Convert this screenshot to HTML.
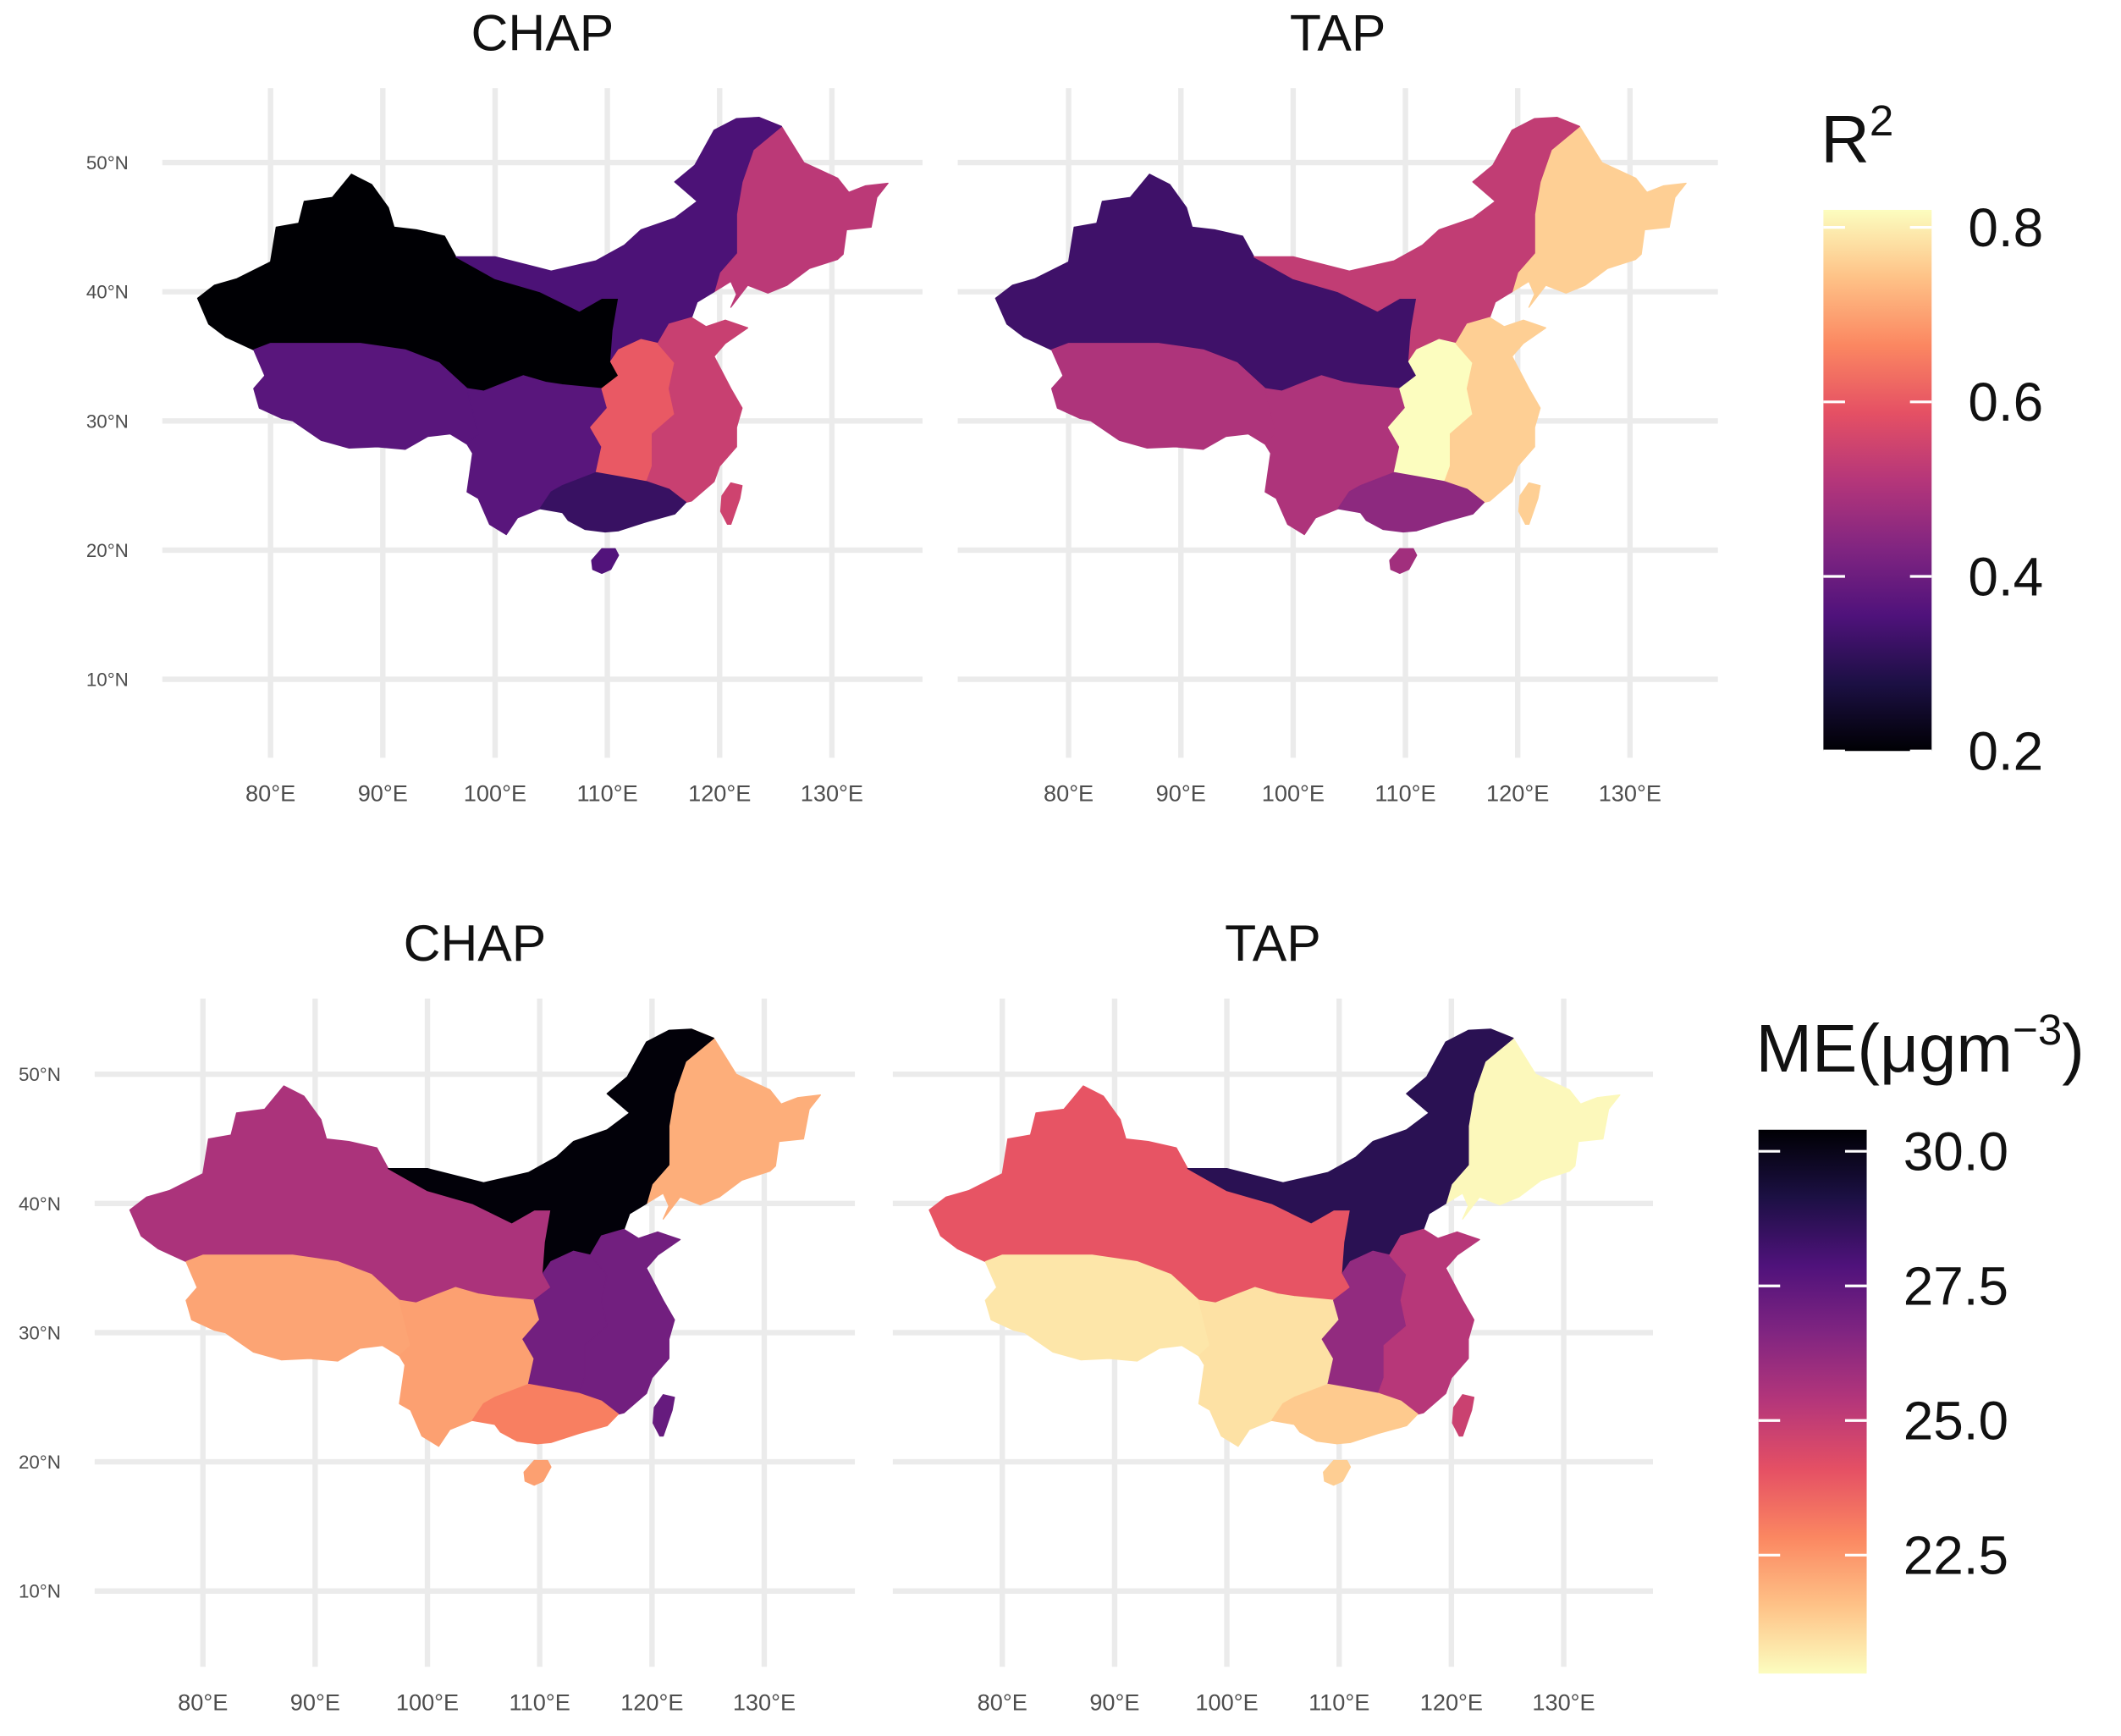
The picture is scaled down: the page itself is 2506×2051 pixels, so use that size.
<!DOCTYPE html>
<html><head><meta charset="utf-8"><style>
html,body{margin:0;padding:0;background:#fff;}
svg{display:block;font-family:"Liberation Sans",Arial,sans-serif;}
</style></head><body>
<svg id="fig" width="2506" height="2051" viewBox="0 0 1568 1283" xmlns="http://www.w3.org/2000/svg">
<defs>
<linearGradient id="g1" x1="0" y1="1" x2="0" y2="0">
<stop offset="0" stop-color="#000004"/><stop offset="0.125" stop-color="#1c1044"/><stop offset="0.25" stop-color="#4f127b"/><stop offset="0.375" stop-color="#812581"/><stop offset="0.5" stop-color="#b5367a"/><stop offset="0.625" stop-color="#e55064"/><stop offset="0.75" stop-color="#fb8761"/><stop offset="0.875" stop-color="#fec287"/><stop offset="1" stop-color="#fcfdbf"/>
</linearGradient>
<linearGradient id="g2" x1="0" y1="0" x2="0" y2="1">
<stop offset="0" stop-color="#000004"/><stop offset="0.125" stop-color="#1c1044"/><stop offset="0.25" stop-color="#4f127b"/><stop offset="0.375" stop-color="#812581"/><stop offset="0.5" stop-color="#b5367a"/><stop offset="0.625" stop-color="#e55064"/><stop offset="0.75" stop-color="#fb8761"/><stop offset="0.875" stop-color="#fec287"/><stop offset="1" stop-color="#fcfdbf"/>
</linearGradient>
</defs>
<g id="root"></g>
</svg>
<script>
const regions = ["northwest","tibet","southwest","northeast","north","central","east","south","hainan","taiwan"];
const r2Chap = [0.20,0.37,0.37,0.52,0.35,0.60,0.54,0.32,0.36,0.55];
const r2Tap  = [0.33,0.50,0.50,0.76,0.53,0.82,0.76,0.45,0.48,0.76];
const meChap = [25.6,22.2,22.3,22.0,30.3,27.0,27.0,23.0,22.3,27.3];
const meTap  = [24.0,20.8,20.9,20.4,28.8,26.2,25.3,21.4,21.3,24.8];
const lonTicks = [80,90,100,110,120,130];
const latTicks = [10,20,30,40,50];
const r2Ticks = [0.2,0.4,0.6,0.8];
const meTicks = [22.5,25.0,27.5,30.0];

const shapes = {
northwest:[[73.5,39.5],[75,40.5],[77,41],[80,42.3],[80.5,45],[82.5,45.3],[83,47],[85.5,47.3],[87.2,49.1],[89,48.3],[90.5,46.5],[91,45],[93,44.8],[95.5,44.3],[96.5,42.7],[100,41],[104,40],[107.5,38.5],[109.5,39.5],[111,39.5],[110.5,37],[110.3,34.6],[111,33.5],[109.5,32.5],[106,32.8],[104.5,33],[102.5,33.5],[101,33],[99,32.3],[97.5,32.5],[95,34.5],[92,35.5],[88,36],[84,36],[80,36],[78.5,35.5],[76,36.5],[74.5,37.5]],
tibet:[[78.5,35.5],[80,36],[84,36],[88,36],[92,35.5],[95,34.5],[97.5,32.5],[98.5,29],[97.5,28.2],[96,29],[94,28.8],[92,27.8],[89.5,28],[87,27.9],[84.5,28.5],[82,30],[81,30.2],[79,31],[78.5,32.5],[79.5,33.5]],
southwest:[[97.5,32.5],[99,32.3],[101,33],[102.5,33.5],[104.5,33],[106,32.8],[109.5,32.5],[110,31],[108.5,29.5],[109.5,28],[109,26],[106,25],[105,24.5],[104,23.2],[102,22.5],[101,21.2],[99.5,22],[98.5,24],[97.5,24.5],[98,27.5],[97.5,28.2],[98.5,29]],
northeast:[[123.5,53.5],[125.5,52.8],[127.5,50],[130.5,48.8],[131.5,47.7],[133,48.2],[135,48.4],[134,47.3],[133.5,45],[131.3,44.8],[131,42.9],[130.5,42.5],[128,41.8],[126,40.5],[124.3,39.9],[122.5,40.5],[121,38.8],[121.5,39.8],[121,40.8],[119.5,40],[120,41.5],[121.5,43],[121.5,46],[122,48.5],[123,51]],
north:[[96.5,42.7],[100,42.7],[105,41.6],[109,42.4],[111.5,43.6],[113,44.8],[116,45.7],[118,47],[116,48.5],[117.8,49.8],[119.5,52.5],[121.5,53.4],[123.5,53.5],[125.5,52.8],[123,51],[122,48.5],[121.5,46],[121.5,43],[120,41.5],[119.5,40],[118,39.2],[117.5,38],[115.5,37.5],[114.5,36],[113,36.3],[111,35.5],[110.3,34.6],[110.5,37],[111,39.5],[109.5,39.5],[107.5,38.5],[104,40],[100,41]],
central:[[110.3,34.6],[111,35.5],[113,36.3],[114.5,36],[116,34.5],[115.5,32.5],[116,30.5],[114,29],[114,26.5],[113.5,25.3],[111,25.7],[109,26],[109.5,28],[108.5,29.5],[110,31],[109.5,32.5],[111,33.5]],
east:[[114.5,36],[115.5,37.5],[117.5,38],[118.8,37.3],[120.5,37.8],[122.5,37.2],[120.5,36],[119.5,35],[121,32.5],[122,31],[121.5,29.5],[121.5,28],[120,26.5],[119.5,25.3],[117.5,23.8],[117,23.7],[115.5,24.7],[113.5,25.3],[114,26.5],[114,29],[116,30.5],[115.5,32.5],[116,34.5]],
south:[[104,23.2],[105,24.5],[106,25],[109,26],[111,25.7],[113.5,25.3],[115.5,24.7],[117,23.7],[116,22.8],[113.5,22.2],[111,21.5],[109.8,21.4],[108,21.6],[106.5,22.3],[106,22.9]],
hainan:[[108.6,19.2],[109.5,20.1],[110.7,20.1],[111,19.6],[110.3,18.5],[109.5,18.2],[108.7,18.5]],
taiwan:[[121,25.2],[122,25],[121.8,24],[121,22],[120.7,22],[120.1,23],[120.2,24.2]]
};

const stops=["#000004","#1c1044","#4f127b","#812581","#b5367a","#e55064","#fb8761","#fec287","#fcfdbf"];
function hx(c){return [1,3,5].map(i=>parseInt(c.substr(i,2),16));}
function magma(t){t=Math.max(0,Math.min(1,t));const f=t*8,i=Math.min(7,Math.floor(f)),u=f-i;const a=hx(stops[i]),b=hx(stops[i+1]);return "rgb("+a.map((v,k)=>Math.round(v+(b[k]-v)*u)).join(",")+")";}

const NS="http://www.w3.org/2000/svg";
const root=document.getElementById("root");
function el(tag,attrs,parent){const e=document.createElementNS(NS,tag);for(const k in attrs)e.setAttribute(k,attrs[k]);(parent||root).appendChild(e);return e;}

function panel(name,x80,y50,gx0,gx1,gy0,gy1,title,vals,vmin,vmax,rev,showLat){
  const g=el("g",{});
  
  
  const X=lon=>x80+(lon-80)*8.3;
  const Y=lat=>y50+(50-lat)*9.55;
  lonTicks.forEach(l=>{const ln=el("line",{x1:X(l),x2:X(l),y1:gy0,y2:gy1,stroke:"#ebebeb","stroke-width":4},g);
    
    const t=el("text",{x:X(l),y:gy1+32,"text-anchor":"middle","font-size":17,fill:"#4d4d4d"},g);t.textContent=l+"°E";
    });
  latTicks.forEach(l=>{const ln=el("line",{x1:gx0,x2:gx1,y1:Y(l),y2:Y(l),stroke:"#ebebeb","stroke-width":4},g);
    
    if(showLat){const t=el("text",{x:gx0-25,y:Y(l)+5,"text-anchor":"end","font-size":14,fill:"#4d4d4d"},g);t.textContent=l+"°N";
    }});
  regions.forEach((r,i)=>{const pts=shapes[r].map(p=>X(p[0]).toFixed(1)+","+Y(p[1]).toFixed(1)).join(" ");
    let t=(vals[i]-vmin)/(vmax-vmin); if(rev) t=1-t;
    const c=magma(t);
    const p=el("polygon",{points:pts,fill:c,stroke:c,"stroke-width":0.8,"stroke-linejoin":"round"},g);
    });
  const t=el("text",{x:(gx0+gx1)/2,y:gy0-28,"text-anchor":"middle","font-size":38,fill:"#111"},g);
  t.textContent=title;
}
const r2min=0.2,r2max=0.82,memin=20.3,memax=30.4;
panel("r2-chap-map",200,120,120,682,65,560,"CHAP",r2Chap,r2min,r2max,false,true);
panel("r2-tap-map",790,120,708,1270,65,560,"TAP",r2Tap,r2min,r2max,false,false);
panel("me-chap-map",150,794,70,632,738,1232,"CHAP",meChap,memin,memax,true,true);
panel("me-tap-map",741,794,660,1222,738,1232,"TAP",meTap,memin,memax,true,false);

function legend(name,x,y0,y1,grad,vmin,vmax,ticks,fmt){
  const g=el("g",{});
  
  
  const r=el("rect",{x:x,y:y0,width:80,height:y1-y0,fill:"url(#"+grad+")"},g);
  
  ticks.forEach(v=>{let f=(v-vmin)/(vmax-vmin);const yy=y1-f*(y1-y0);
    el("line",{x1:x,x2:x+16,y1:yy,y2:yy,stroke:"#fff","stroke-width":2},g);
    el("line",{x1:x+64,x2:x+80,y1:yy,y2:yy,stroke:"#fff","stroke-width":2},g);
    const t=el("text",{x:x+107,y:yy+14,"font-size":40,fill:"#111"},g);t.textContent=fmt(v);
    });
}
legend("r2-legend",1348,155,555,"g1",r2min,r2max,r2Ticks,v=>v.toFixed(1));
legend("me-legend",1300,835,1237,"g2",memin,memax,meTicks,v=>v.toFixed(1));
let t1=el("text",{x:1346,y:120,"font-size":50,fill:"#111"});t1.innerHTML='R<tspan dy="-20" font-size="32">2</tspan>';

let t2=el("text",{x:1298,y:792,"font-size":50,fill:"#111"});t2.innerHTML='ME(μgm<tspan dy="-20" font-size="32">−3</tspan><tspan dy="20">)</tspan>';

</script>
</body></html>
